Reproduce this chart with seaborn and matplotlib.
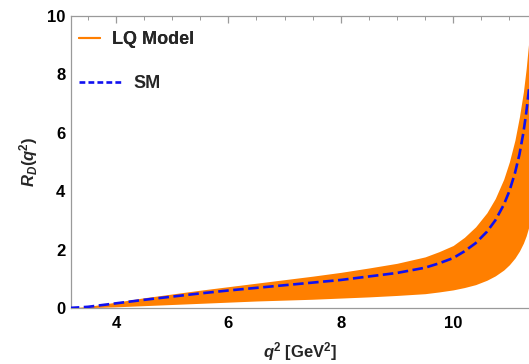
import numpy as np
import pandas as pd
import seaborn as sns
import matplotlib
matplotlib.use("Agg")
import matplotlib.pyplot as plt
from matplotlib.ticker import MultipleLocator
from matplotlib.lines import Line2D

# ---- data ----
q2 = [3.16, 3.5, 4.0, 4.5, 5.0, 5.5, 6.0, 6.5, 7.0, 7.5, 8.0, 8.5, 9.0, 9.5, 9.75,
      10.0, 10.2, 10.4, 10.6, 10.75, 10.9, 11.0, 11.1, 11.18, 11.25, 11.3, 11.35]
sm = [0.0, 0.04, 0.16, 0.28, 0.39, 0.5, 0.6, 0.69, 0.78, 0.87, 0.96, 1.08, 1.2, 1.38, 1.53,
      1.71, 1.94, 2.22, 2.61, 3.0, 3.53, 4.0, 4.62, 5.26, 6.0, 6.67, 7.5]
lq_upper = [0.0, 0.05, 0.2, 0.35, 0.48, 0.61, 0.73, 0.85, 0.97, 1.09, 1.22, 1.37, 1.53, 1.75, 1.93,
            2.14, 2.42, 2.78, 3.26, 3.75, 4.41, 5.0, 5.75, 6.55, 7.4, 8.2, 9.2]
lq_lower = [0.0, 0.01, 0.04, 0.08, 0.12, 0.16, 0.2, 0.24, 0.27, 0.3, 0.34, 0.38, 0.43, 0.49, 0.55,
            0.62, 0.7, 0.8, 0.95, 1.1, 1.3, 1.48, 1.71, 1.95, 2.22, 2.47, 2.8]
labels = ["LQ Model", "SM"]

sns.set_theme(style="white")
plt.rcParams["font.family"] = ["Liberation Sans", "DejaVu Sans"]
plt.rcParams["mathtext.fontset"] = "custom"
plt.rcParams["mathtext.rm"] = "Liberation Sans:bold"
plt.rcParams["mathtext.it"] = "Liberation Sans:italic:bold"
plt.rcParams["mathtext.bf"] = "Liberation Sans:bold"
try:
    plt.rcParams["mathtext.bfit"] = "Liberation Sans:italic:bold"
except KeyError:
    pass

orange = "#FF7F00"
blue = "#1010F0"
gray = "#9a9a9a"

fig = plt.figure(figsize=(5.29, 3.64), dpi=100)
ax = fig.add_axes([71 / 529, 1 - 308 / 364, 1 - 71 / 529, (308 - 16) / 364])

df = pd.DataFrame({"q2": q2, "sm": sm, "lo": lq_lower, "hi": lq_upper})
ax.fill_between(df["q2"], df["lo"], df["hi"], color=orange, lw=0, zorder=1)
sns.lineplot(data=df, x="q2", y="sm", ax=ax, color=blue, lw=1.9,
             dashes=False, zorder=3, legend=False)
ax.lines[-1].set_dashes((4, 1.7))

ax.set_xlim(3.2, 11.35)
ax.set_ylim(0, 10)
ax.xaxis.set_major_locator(MultipleLocator(2))
ax.xaxis.set_minor_locator(MultipleLocator(0.5))
ax.yaxis.set_major_locator(MultipleLocator(2))
ax.yaxis.set_minor_locator(MultipleLocator(0.5))
ax.tick_params(which="both", direction="in", top=True, right=False, colors=gray,
               labelcolor="black", labelsize=12)
ax.tick_params(which="major", length=5, width=0.9)
ax.tick_params(which="minor", length=3, width=0.7)
ax.tick_params(axis="x", which="major", pad=6)
ax.tick_params(axis="y", which="major", pad=4)
for lab in ax.get_xticklabels() + ax.get_yticklabels():
    lab.set_fontweight("bold")
for s in ["left", "bottom", "top"]:
    ax.spines[s].set_color(gray)
    ax.spines[s].set_linewidth(0.9)
ax.spines["right"].set_visible(False)

ax.set_xlabel(r"$\mathbfit{q}^{\mathbf{2}}$ [GeV$^{\mathbf{2}}$]", fontsize=12,
              fontweight="bold", labelpad=6)
ax.set_ylabel(r"$\mathbfit{R}_{\mathbfit{D}}\mathbf{(}\mathbfit{q}^{\mathbf{2}}\mathbf{)}$",
              fontsize=12, fontweight="bold", labelpad=5)

h1 = Line2D([], [], color=orange, lw=1.5)
h2 = Line2D([], [], color=blue, lw=1.9, dashes=(2.2, 1.2))
leg1 = fig.legend([h1], [labels[0]], loc="center left",
                  bbox_to_anchor=(79 / 529, 1 - 40 / 364), frameon=False,
                  handlelength=1.15, handletextpad=0.7, borderpad=0, borderaxespad=0,
                  prop={"weight": "bold", "size": 13})
leg2 = fig.legend([h2], [labels[1]], loc="center left",
                  bbox_to_anchor=(79 / 529, 1 - 84 / 364), frameon=False,
                  handlelength=2.3, handletextpad=0.7, borderpad=0, borderaxespad=0,
                  prop={"weight": "bold", "size": 13})
fig.add_artist(leg1)

fig.savefig("out.png", dpi=100)
